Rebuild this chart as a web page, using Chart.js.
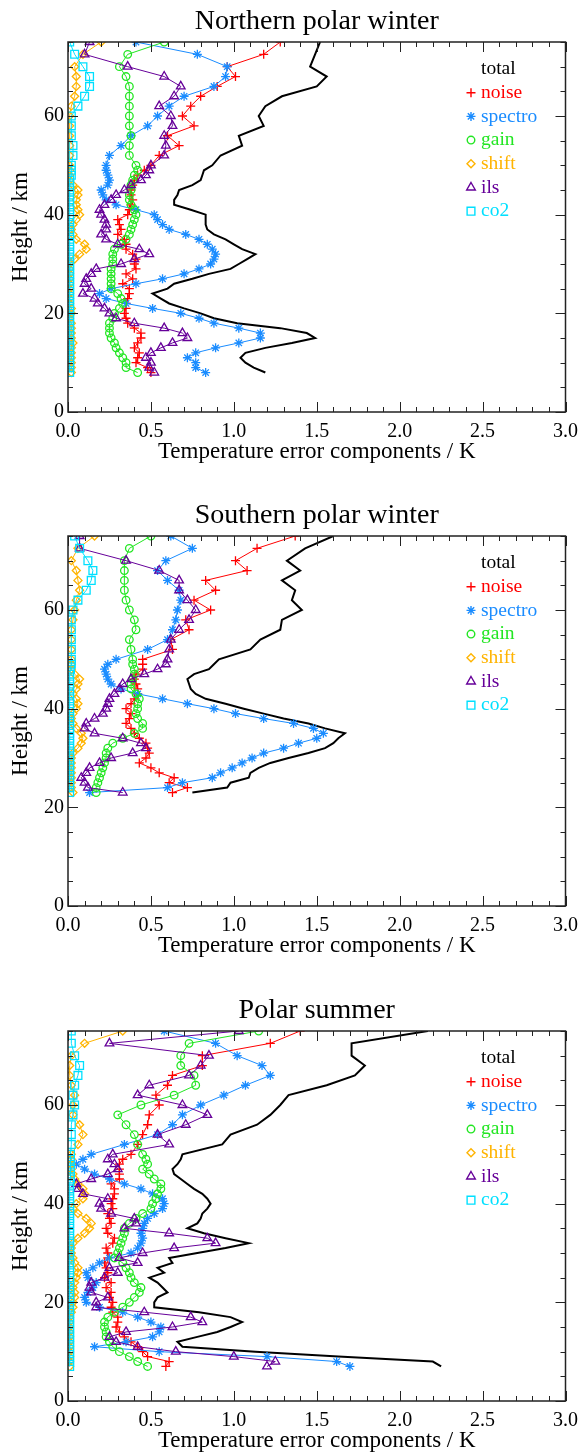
<!DOCTYPE html>
<html>
<head>
<meta charset="utf-8">
<script src="https://cdn.jsdelivr.net/npm/chart.js@4.4.1/dist/chart.umd.min.js"></script>
<style>
    html, body { margin: 0; padding: 0; background: #fff; overflow: hidden; }
    body { width: 586px; height: 1452px; position: relative; }
    canvas { position: absolute; left: 0; }
</style>
</head>
<body>
<canvas id="northChart" width="586" height="470" style="top:0px"></canvas>
<canvas id="southChart" width="586" height="470" style="top:494px"></canvas>
<canvas id="summerChart" width="586" height="470" style="top:989px"></canvas>
<script>
// ---- Northern polar winter ----
const northHeights = [8,9,10,11,12,13,14,15,16,17,18,19,20,21,22,23,24,25,26,27,28,29,30,31,32,33,34,35,36,37,38,39,40,41,42,43,44,45,46,47,48,49,50,52,54,56,58,60,62,64,66,68,70,72.5,75];
const northTotal   = [1.19,1.12,1.07,1.04,1.07,1.19,1.35,1.49,1.44,1.28,1.02,0.88,0.80,0.70,0.61,0.56,0.51,0.60,0.64,0.75,0.85,0.98,1.03,1.08,1.13,1.05,1.00,0.95,0.88,0.84,0.83,0.83,0.83,0.74,0.64,0.64,0.66,0.67,0.75,0.80,0.81,0.82,0.87,0.92,1.05,1.03,1.18,1.15,1.19,1.29,1.50,1.56,1.46,1.49,1.52];
const northNoise   = [0.50,0.48,0.41,0.42,0.43,0.40,0.42,0.44,0.44,0.40,0.36,0.35,0.34,0.35,0.35,0.36,0.37,0.37,0.33,0.39,0.35,0.41,0.40,0.41,0.39,0.35,0.35,0.34,0.30,0.32,0.31,0.30,0.36,0.37,0.38,0.39,0.38,0.38,0.39,0.40,0.42,0.46,0.50,0.55,0.67,0.60,0.76,0.69,0.74,0.80,0.90,1.01,0.96,1.18,1.28];
const northSpectro = [0.83,0.77,0.77,0.72,0.77,0.89,1.03,1.16,1.16,1.03,0.88,0.79,0.68,0.51,0.35,0.23,0.19,0.26,0.41,0.57,0.70,0.79,0.86,0.88,0.89,0.87,0.84,0.79,0.71,0.61,0.57,0.54,0.52,0.41,0.29,0.23,0.21,0.20,0.24,0.25,0.24,0.23,0.23,0.25,0.32,0.38,0.48,0.54,0.61,0.70,0.88,0.95,0.96,0.78,0.41];
const northGain    = [0.42,0.35,0.35,0.33,0.31,0.29,0.28,0.26,0.25,0.25,0.25,0.27,0.28,0.31,0.33,0.32,0.30,0.26,0.26,0.26,0.26,0.26,0.27,0.27,0.27,0.28,0.32,0.35,0.37,0.38,0.39,0.40,0.41,0.40,0.38,0.37,0.37,0.38,0.38,0.39,0.40,0.42,0.41,0.37,0.37,0.38,0.37,0.37,0.37,0.37,0.37,0.35,0.31,0.36,0.58];
const northShift   = [0.02,0.02,0.02,0.02,0.02,0.02,0.03,0.02,0.02,0.02,0.02,0.01,0.02,0.02,0.01,0.01,0.01,0.01,0.01,0.01,0.01,0.01,0.01,0.04,0.07,0.11,0.10,0.05,0.03,0.02,0.03,0.05,0.07,0.06,0.05,0.05,0.06,0.06,0.03,0.01,0.01,0.01,0.01,0.01,0.01,0.01,0.01,0.01,0.02,0.04,0.05,0.05,0.04,0.09,0.20];
const northIls     = [0.52,0.49,0.50,0.47,0.50,0.56,0.63,0.72,0.69,0.58,0.40,0.29,0.25,0.22,0.18,0.16,0.09,0.14,0.10,0.11,0.14,0.17,0.32,0.40,0.49,0.43,0.30,0.23,0.20,0.23,0.23,0.22,0.20,0.19,0.22,0.26,0.29,0.34,0.38,0.44,0.47,0.49,0.50,0.58,0.59,0.58,0.63,0.62,0.55,0.64,0.68,0.58,0.36,0.10,0.13];
const northCo2     = [0.01,0.01,0.01,0.01,0.01,0.01,0.01,0.01,0.01,0.01,0.01,0.01,0.01,0.01,0.01,0.01,0.01,0.01,0.01,0.01,0.01,0.01,0.01,0.01,0.01,0.01,0.01,0.01,0.01,0.01,0.01,0.01,0.01,0.01,0.01,0.01,0.01,0.01,0.01,0.01,0.02,0.02,0.02,0.03,0.03,0.02,0.02,0.02,0.06,0.10,0.13,0.13,0.09,0.04,0.01];

// ---- Southern polar winter ----
const southHeights = [23,24,25,26,27,28,29,30,31,32,33,34,35,36,37,38,39,40,41,42,43,44,45,46,47,48,49,50,52,54,56,58,60,62,64,66,68,70,72.5,75];
const southTotal   = [0.75,0.96,0.98,1.09,1.10,1.15,1.22,1.33,1.45,1.55,1.60,1.63,1.67,1.55,1.45,1.30,1.18,1.06,0.95,0.83,0.77,0.74,0.73,0.72,0.76,0.85,0.88,0.91,1.10,1.16,1.28,1.29,1.41,1.35,1.37,1.29,1.40,1.32,1.43,1.60];
const southNoise   = [0.63,0.72,0.61,0.64,0.55,0.50,0.43,0.47,0.49,0.48,0.47,0.43,0.40,0.38,0.35,0.37,0.38,0.35,0.38,0.40,0.42,0.42,0.41,0.40,0.41,0.45,0.45,0.45,0.63,0.62,0.73,0.71,0.86,0.76,0.89,0.83,1.08,1.01,1.14,1.37];
const southSpectro = [0.13,0.60,0.69,0.87,0.92,0.99,1.05,1.11,1.18,1.30,1.39,1.50,1.54,1.48,1.36,1.18,1.01,0.88,0.72,0.57,0.42,0.32,0.26,0.24,0.23,0.22,0.24,0.29,0.48,0.60,0.63,0.65,0.66,0.68,0.67,0.60,0.54,0.59,0.75,0.62];
const southGain    = [0.17,0.17,0.18,0.19,0.20,0.21,0.22,0.23,0.23,0.24,0.27,0.33,0.40,0.45,0.45,0.42,0.41,0.42,0.42,0.43,0.41,0.38,0.38,0.39,0.40,0.40,0.39,0.39,0.38,0.37,0.41,0.40,0.37,0.35,0.34,0.34,0.34,0.34,0.37,0.50];
const southShift   = [0.03,0.02,0.02,0.02,0.02,0.02,0.02,0.02,0.03,0.06,0.08,0.09,0.08,0.05,0.03,0.02,0.03,0.05,0.06,0.05,0.03,0.05,0.06,0.07,0.04,0.02,0.02,0.02,0.02,0.02,0.02,0.03,0.04,0.05,0.07,0.06,0.05,0.02,0.06,0.16];
const southIls     = [0.33,0.12,0.10,0.08,0.11,0.13,0.19,0.26,0.39,0.47,0.44,0.33,0.16,0.10,0.11,0.16,0.21,0.23,0.24,0.25,0.28,0.31,0.33,0.38,0.46,0.54,0.59,0.60,0.61,0.62,0.67,0.73,0.77,0.72,0.67,0.67,0.55,0.35,0.07,0.07];
const southCo2     = [0.01,0.01,0.01,0.01,0.01,0.01,0.01,0.01,0.01,0.01,0.01,0.01,0.01,0.01,0.01,0.01,0.01,0.01,0.01,0.01,0.01,0.01,0.01,0.01,0.01,0.015,0.02,0.02,0.02,0.02,0.02,0.02,0.03,0.06,0.11,0.14,0.15,0.12,0.07,0.04];

// ---- Polar summer ----
const summerHeights = [7,8,9,10,11,12,13,14,15,16,17,18,19,20,21,22,23,24,25,26,27,28,29,30,31,32,33,34,35,36,37,38,39,40,41,42,43,44,45,46,47,48,49,50,52,54,56,58,60,62,64,66,68,70,72.5,75];
const summerTotal   = [2.25,2.20,1.63,1.13,0.69,0.66,0.78,0.90,0.98,1.05,0.98,0.79,0.52,0.52,0.54,0.60,0.57,0.54,0.49,0.58,0.54,0.63,0.61,0.78,0.95,1.09,0.95,0.82,0.72,0.78,0.80,0.81,0.84,0.86,0.84,0.81,0.76,0.72,0.68,0.64,0.63,0.66,0.68,0.69,0.93,0.98,1.14,1.22,1.28,1.33,1.56,1.73,1.79,1.71,1.71,2.17];
const summerNoise   = [0.59,0.61,0.48,0.45,0.42,0.38,0.34,0.31,0.29,0.30,0.30,0.27,0.26,0.27,0.25,0.26,0.23,0.26,0.22,0.24,0.23,0.22,0.24,0.24,0.23,0.27,0.28,0.24,0.23,0.26,0.25,0.24,0.27,0.26,0.27,0.28,0.28,0.26,0.31,0.31,0.31,0.31,0.33,0.38,0.42,0.45,0.48,0.49,0.55,0.53,0.60,0.63,0.81,0.81,1.22,1.40];
const summerSpectro = [1.70,1.62,1.20,0.55,0.16,0.35,0.51,0.55,0.56,0.50,0.42,0.33,0.19,0.11,0.10,0.12,0.15,0.17,0.12,0.11,0.15,0.19,0.25,0.38,0.42,0.44,0.45,0.44,0.45,0.46,0.48,0.52,0.57,0.58,0.57,0.51,0.44,0.34,0.25,0.16,0.10,0.05,0.09,0.14,0.34,0.54,0.63,0.69,0.80,0.94,1.07,1.22,1.17,1.02,0.89,0.58];
const summerGain    = [0.48,0.42,0.37,0.31,0.27,0.25,0.23,0.23,0.22,0.22,0.24,0.28,0.33,0.37,0.40,0.43,0.44,0.40,0.38,0.37,0.35,0.33,0.28,0.30,0.31,0.32,0.33,0.34,0.34,0.37,0.41,0.45,0.50,0.51,0.53,0.54,0.56,0.56,0.52,0.49,0.45,0.48,0.47,0.45,0.42,0.40,0.35,0.30,0.44,0.64,0.77,0.76,0.68,0.68,0.73,1.15];
const summerShift   = [0.01,0.01,0.01,0.01,0.01,0.01,0.01,0.01,0.01,0.01,0.01,0.02,0.03,0.03,0.04,0.04,0.03,0.04,0.05,0.06,0.06,0.04,0.03,0.02,0.02,0.03,0.06,0.10,0.13,0.14,0.11,0.06,0.03,0.05,0.09,0.10,0.09,0.06,0.04,0.03,0.02,0.02,0.02,0.02,0.06,0.09,0.07,0.03,0.03,0.04,0.02,0.01,0.01,0.02,0.10,0.33];
const summerIls     = [1.20,1.25,1.00,0.65,0.42,0.29,0.25,0.35,0.63,0.81,0.74,0.46,0.17,0.17,0.24,0.14,0.13,0.14,0.22,0.30,0.25,0.42,0.31,0.45,0.64,0.89,0.84,0.61,0.34,0.41,0.40,0.26,0.20,0.19,0.24,0.09,0.06,0.05,0.14,0.24,0.30,0.28,0.24,0.27,0.61,0.54,0.71,0.84,0.69,0.42,0.49,0.73,0.80,0.85,0.25,1.03];
const summerCo2     = [0.01,0.01,0.01,0.01,0.01,0.01,0.01,0.01,0.01,0.01,0.01,0.01,0.01,0.01,0.01,0.01,0.01,0.01,0.01,0.01,0.01,0.01,0.01,0.01,0.01,0.01,0.01,0.01,0.01,0.01,0.01,0.01,0.01,0.01,0.01,0.01,0.01,0.01,0.015,0.015,0.015,0.015,0.015,0.015,0.02,0.02,0.02,0.03,0.04,0.03,0.04,0.06,0.07,0.04,0.02,0.02];

// Series look (legend order = drawing order, co2 ends up on top)
const seriesStyles = [
    { label: 'total',   color: '#000000', pointStyle: false,      radius: 0,   lineWidth: 2 },
    { label: 'noise',   color: '#ff0000', pointStyle: 'cross',    radius: 4.5, lineWidth: 1 },
    { label: 'spectro', color: '#1a8cff', pointStyle: 'star',     radius: 4.5, lineWidth: 1 },
    { label: 'gain',    color: '#22e622', pointStyle: 'circle',   radius: 3.8, lineWidth: 1 },
    { label: 'shift',   color: '#ffb400', pointStyle: 'rectRot',  radius: 4,   lineWidth: 1 },
    { label: 'ils',     color: '#660099', pointStyle: 'triangle', radius: 5,   lineWidth: 1 },
    { label: 'co2',     color: '#00e0ff', pointStyle: 'rect',     radius: 5.5, lineWidth: 1 }
];

const FONT = "'Liberation Serif', 'Times New Roman', serif";
Chart.defaults.font.family = FONT;
Chart.defaults.color = '#000';

// Frame with IDL style inward ticks on all four sides
const idlFrame = {
    id: 'idlFrame',
    afterDatasetsDraw(chart) {
        const { ctx, chartArea: a, scales: { x, y } } = chart;
        ctx.save();
        ctx.strokeStyle = '#222';
        ctx.lineWidth = 1.5;
        ctx.strokeRect(a.left, a.top, a.right - a.left, a.bottom - a.top);
        ctx.lineWidth = 1;
        ctx.beginPath();
        for (let i = 0; i <= 30; i++) {
            const px = Math.round(x.getPixelForValue(i / 10)) + 0.5;
            const len = i % 5 === 0 ? 10 : 5;
            ctx.moveTo(px, a.bottom); ctx.lineTo(px, a.bottom - len);
            ctx.moveTo(px, a.top); ctx.lineTo(px, a.top + len);
        }
        for (let k = 0; k <= 15; k++) {
            const py = Math.round(y.getPixelForValue(k * 5)) + 0.5;
            const len = (k * 5) % 20 === 0 ? 10 : 5;
            ctx.moveTo(a.left, py); ctx.lineTo(a.left + len, py);
            ctx.moveTo(a.right, py); ctx.lineTo(a.right - len, py);
        }
        ctx.stroke();
        ctx.restore();
    }
};

// Legend drawn inside the plot, text in series colour
const insideLegend = {
    id: 'insideLegend',
    afterDraw(chart) {
        const { ctx, chartArea } = chart;
        const textX = chartArea.left + 413;
        const markX = chartArea.left + 403;
        ctx.save();
        ctx.font = '19.5px ' + FONT;
        ctx.textBaseline = 'middle';
        ctx.textAlign = 'left';
        chart.data.datasets.forEach((ds, i) => {
            const yPos = chartArea.top + 27 + i * 23.7;
            if (ds.pointStyle) {
                ctx.strokeStyle = ds.borderColor;
                ctx.fillStyle = 'rgba(0,0,0,0)';
                ctx.lineWidth = 1.4;
                Chart.helpers.drawPoint(ctx, { pointStyle: ds.pointStyle, radius: ds.pointRadius, rotation: 0, borderWidth: 1.4 }, markX, yPos);
            }
            ctx.fillStyle = ds.borderColor;
            ctx.fillText(ds.label, textX, yPos);
        });
        ctx.restore();
    }
};

function buildDatasets(heights, seriesValues) {
    return seriesStyles.map((s, i) => ({
        label: s.label,
        data: seriesValues[i].map((v, j) => ({ x: v, y: heights[j] })),
        borderColor: s.color,
        backgroundColor: s.color,
        borderWidth: s.lineWidth,
        pointStyle: s.pointStyle,
        pointRadius: s.radius,
        pointBorderColor: s.color,
        pointBackgroundColor: 'rgba(0,0,0,0)',
        pointBorderWidth: 1.3,
        tension: 0,
        order: seriesStyles.length - i
    }));
}

function renderPanel(canvasId, title, heights, seriesValues) {
    const canvas = document.getElementById(canvasId);
    if (!canvas) return null;
    return new Chart(canvas.getContext('2d'), {
        type: 'line',
        data: { datasets: buildDatasets(heights, seriesValues) },
        options: {
            responsive: false,
            animation: false,
            devicePixelRatio: 1,
            layout: { padding: { left: 0, right: 14, top: 0, bottom: 0 } },
            plugins: {
                legend: { display: false },
                tooltip: { enabled: false },
                title: {
                    display: true,
                    text: title,
                    fullSize: false,
                    color: '#000',
                    font: { size: 28, weight: 'normal', lineHeight: 1.2 },
                    padding: { top: 5, bottom: 3.4 }
                }
            },
            scales: {
                x: {
                    type: 'linear',
                    min: 0, max: 3,
                    grid: { display: false, drawTicks: false },
                    border: { display: false },
                    ticks: {
                        stepSize: 0.5, padding: 8, maxRotation: 0, autoSkip: false, includeBounds: false,
                        font: { size: 20 }, color: '#000',
                        callback: v => v.toFixed(1)
                    },
                    title: {
                        display: true, text: 'Temperature error components / K',
                        font: { size: 23 }, color: '#000', padding: { top: 0, bottom: 4 }
                    },
                    afterFit: scale => { scale.height = 58; }
                },
                y: {
                    type: 'linear',
                    min: 0, max: 75,
                    grid: { display: false, drawTicks: false },
                    border: { display: false },
                    ticks: {
                        stepSize: 20, padding: 4, includeBounds: false,
                        font: { size: 20 }, color: '#000'
                    },
                    title: {
                        display: true, text: 'Height / km',
                        font: { size: 23 }, color: '#000', padding: { top: 7, bottom: 0 }
                    },
                    afterFit: scale => { scale.width = 68; }
                }
            }
        },
        plugins: [idlFrame, insideLegend]
    });
}

renderPanel('northChart', 'Northern polar winter', northHeights,
    [northTotal, northNoise, northSpectro, northGain, northShift, northIls, northCo2]);
renderPanel('southChart', 'Southern polar winter', southHeights,
    [southTotal, southNoise, southSpectro, southGain, southShift, southIls, southCo2]);
renderPanel('summerChart', 'Polar summer', summerHeights,
    [summerTotal, summerNoise, summerSpectro, summerGain, summerShift, summerIls, summerCo2]);
</script>
</body>
</html>
